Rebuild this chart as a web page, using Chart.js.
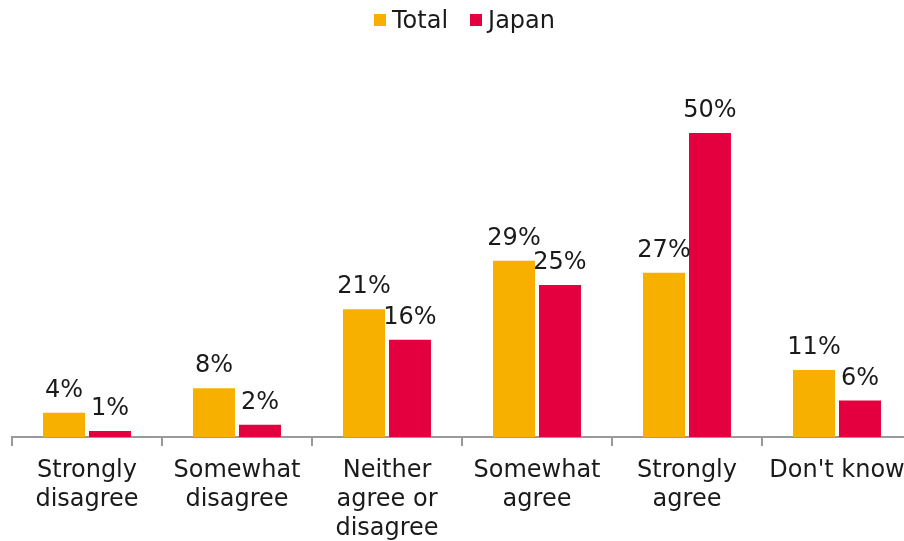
<!DOCTYPE html>
<html>
<head>
<meta charset="utf-8">
<script src="https://cdn.jsdelivr.net/npm/chart.js@4"></script>
<style>
  html, body { margin: 0; padding: 0; background: #fff; overflow: hidden; }
  #wrap { position: relative; width: 920px; height: 541px; }
  #legend {
    position: absolute; top: 6px; left: 374px;
    display: flex; align-items: center;
    font: 24px 'DejaVu Sans', Verdana, sans-serif; color: #1a1a1a;
  }
  #legend span.item { display: flex; align-items: center; margin-right: 22px; }
  #legend span.box { width: 12px; height: 12px; margin-right: 6px; display: inline-block; }
</style>
</head>
<body>
<div id="wrap">
  <div id="legend"></div>
  <canvas id="myChart" width="920" height="541"></canvas>
</div>
<script>
const categories = [
  ["Strongly", "disagree"],
  ["Somewhat", "disagree"],
  ["Neither", "agree or", "disagree"],
  ["Somewhat", "agree"],
  ["Strongly", "agree"],
  "Don't know",
];
const seriesNames = ["Total", "Japan"];
const seriesColors = ["#F7B000", "#E4003F"];
const totalValues = [4, 8, 21, 29, 27, 11];
const japanValues = [1, 2, 16, 25, 50, 6];

const fontName = "'DejaVu Sans', Verdana, sans-serif";

// draws the "x%" labels above each bar
const barLabels = {
  id: "barLabels",
  afterDatasetsDraw(chart) {
    const ctx = chart.ctx;
    ctx.save();
    ctx.font = "24px " + fontName;
    ctx.fillStyle = "#1a1a1a";
    ctx.textAlign = "center";
    ctx.textBaseline = "alphabetic";
    chart.data.datasets.forEach((ds, i) => {
      chart.getDatasetMeta(i).data.forEach((bar, j) => {
        ctx.fillText(ds.data[j] + "%", bar.x, bar.y - 16);
      });
    });
    ctx.restore();
  },
};

const ctx = document.getElementById("myChart");
const myChart = new Chart(ctx, {
  type: "bar",
  data: {
    labels: categories,
    datasets: [
      {
        label: seriesNames[0],
        data: totalValues,
        backgroundColor: seriesColors[0],
        categoryPercentage: 0.613,
        barPercentage: 0.913,
      },
      {
        label: seriesNames[1],
        data: japanValues,
        backgroundColor: seriesColors[1],
        categoryPercentage: 0.613,
        barPercentage: 0.913,
      },
    ],
  },
  options: {
    responsive: false,
    animation: false,
    layout: { padding: { left: 12, right: 8, top: 40, bottom: 0 } },
    plugins: {
      legend: { display: false },
      tooltip: { enabled: false },
    },
    scales: {
      x: {
        afterFit(scale) {
          scale.height = 104;
        },
        grid: {
          drawOnChartArea: false,
          drawTicks: true,
          tickLength: 9,
          color: "#9a9a9a",
          lineWidth: 2,
        },
        border: { color: "#9a9a9a", width: 2 },
        ticks: {
          font: { family: fontName, size: 24, lineHeight: 1.22 },
          color: "#1a1a1a",
          maxRotation: 0,
          autoSkip: false,
          padding: 10,
        },
      },
      y: {
        display: false,
        min: 0,
        max: 65.3,
      },
    },
  },
  plugins: [barLabels],
});

// legend built from the datasets
const legendEl = document.getElementById("legend");
myChart.data.datasets.forEach((ds) => {
  const item = document.createElement("span");
  item.className = "item";
  const box = document.createElement("span");
  box.className = "box";
  box.style.background = ds.backgroundColor;
  item.appendChild(box);
  item.appendChild(document.createTextNode(ds.label));
  legendEl.appendChild(item);
});
</script>
</body>
</html>
